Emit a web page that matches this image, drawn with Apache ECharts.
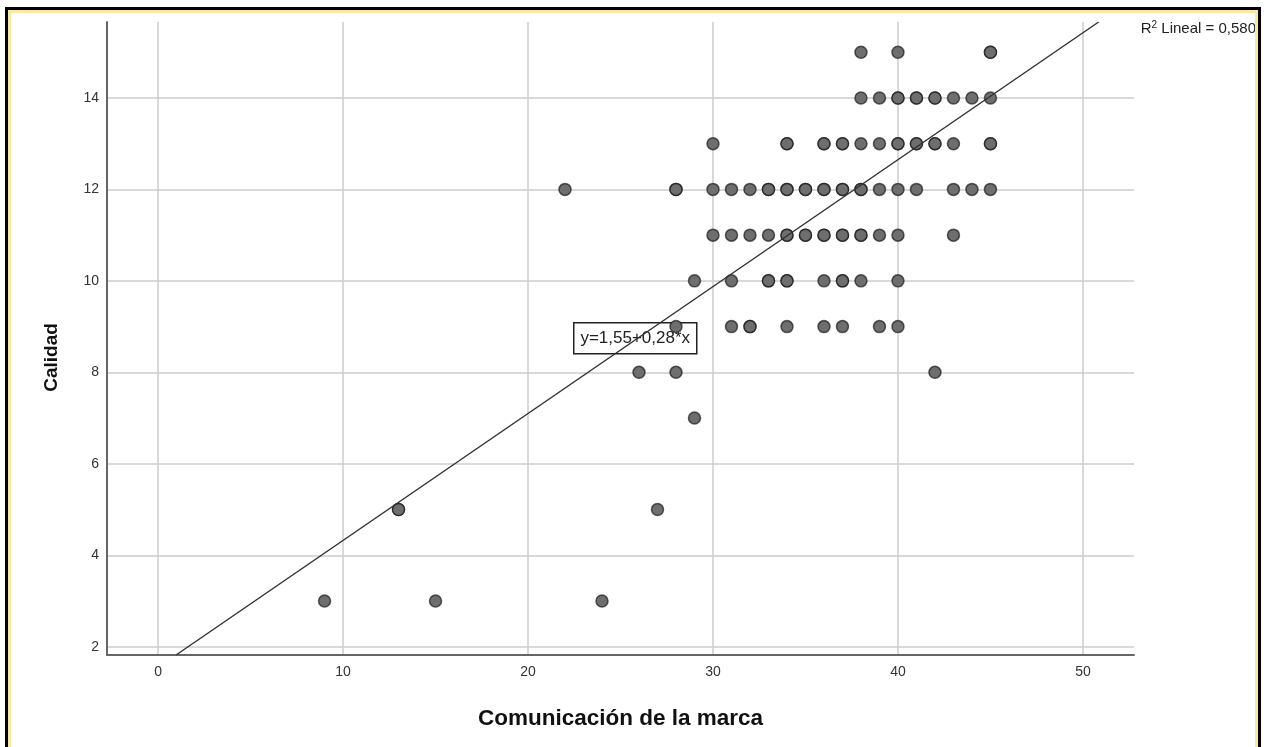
<!DOCTYPE html>
<html lang="es">

<head>
    <meta charset="UTF-8">
    <title>Calidad vs Comunicación de la marca</title>
    <script src="https://cdn.jsdelivr.net/npm/echarts@6/dist/echarts.min.js"></script>
    <style>
        html, body { margin: 0; padding: 0; background: #fff; }
        #chart { position: absolute; left: 0; top: 0; width: 1273px; height: 747px; }
        #frame {
            position: absolute; left: 5px; top: 7px; width: 1250px; height: 745px;
            border: 3px solid #000; pointer-events: none;
        }
        #frame .inner {
            position: absolute; left: 0; top: 0; right: 0; bottom: 0;
            border: 3px solid #fbe8a6;
        }
    </style>
</head>

<body>
    <div id="chart"></div>
    <div id="frame"><div class="inner"></div></div>

<script>
    // niveles de Calidad y los valores de Comunicación observados en cada nivel
    // (valores repetidos = casos superpuestos, se ven más oscuros)
    var calidadLevels = [15, 14, 13, 12, 11, 10, 9, 8, 7, 5, 3];
    var comunicacionByLevel = [
        [38, 40, 45, 45],
        [38, 39, 40, 40, 41, 41, 42, 42, 43, 44, 45],
        [30, 34, 34, 36, 36, 37, 37, 38, 39, 40, 40, 41, 41, 42, 42, 43, 45, 45],
        [22, 28, 28, 30, 31, 32, 33, 33, 34, 34, 35, 35, 36, 36, 37, 37, 38, 38, 39, 40, 41, 43, 44, 45],
        [30, 31, 32, 33, 34, 34, 35, 35, 36, 36, 37, 37, 38, 38, 39, 40, 43],
        [29, 31, 33, 33, 34, 34, 36, 37, 37, 38, 40],
        [28, 31, 32, 32, 34, 36, 37, 39, 40],
        [26, 28, 42],
        [29],
        [13, 13, 27],
        [9, 15, 24]
    ];
    var xTicks = [0, 10, 20, 30, 40, 50];
    var yTicks = [2, 4, 6, 8, 10, 12, 14];

    // ajuste lineal (coeficientes sin redondear y el texto que muestra SPSS)
    var intercept = 1.55;
    var slope = 0.2775;
    var eqText = 'y=1,55+0,28*x';
    var r2 = '0,580';

    var xMin = -2.76, xMax = 52.76;
    var yMin = 1.82, yMax = 15.66;

    var points = [];
    calidadLevels.forEach(function (y, i) {
        comunicacionByLevel[i].forEach(function (x) {
            points.push([x, y]);
        });
    });

    // la recta se corta en los bordes del eje Y
    var fitLine = [
        [(yMin - intercept) / slope, yMin],
        [(yMax - intercept) / slope, yMax]
    ];

    var chart = echarts.init(document.getElementById('chart'));
    chart.setOption({
        animation: false,
        textStyle: { fontFamily: 'Liberation Sans, Arial, sans-serif' },
        grid: { left: 107, right: 139, top: 22, bottom: 92 },
        xAxis: {
            type: 'value',
            min: xMin,
            max: xMax,
            name: 'Comunicación de la marca',
            nameLocation: 'middle',
            nameGap: 52,
            nameTextStyle: { fontSize: 22.5, fontWeight: 'bold', color: '#111' },
            axisLine: { onZero: false, lineStyle: { color: '#666', width: 2 } },
            axisTick: { show: false, customValues: xTicks },
            axisLabel: { customValues: xTicks, fontSize: 14, color: '#333', margin: 10 },
            splitLine: { show: true, lineStyle: { color: '#cccccc', width: 1.5 } }
        },
        yAxis: {
            type: 'value',
            min: yMin,
            max: yMax,
            name: 'Calidad',
            nameLocation: 'middle',
            nameGap: 46,
            nameRotate: 90,
            nameTextStyle: { fontSize: 19, fontWeight: 'bold', color: '#111', padding: [0, 38, 0, 0] },
            axisLine: { show: true, onZero: false, lineStyle: { color: '#666', width: 2 } },
            axisTick: { show: false, customValues: yTicks },
            axisLabel: { customValues: yTicks, fontSize: 14, color: '#333', margin: 8 },
            splitLine: { show: true, lineStyle: { color: '#cccccc', width: 1.5 } }
        },
        series: [{
            type: 'scatter',
            data: points,
            symbolSize: 12,
            itemStyle: {
                color: '#6e6e6e',
                borderColor: 'rgba(15,15,15,0.65)',
                borderWidth: 1.5,
                opacity: 1
            },
            z: 3
        }, {
            type: 'line',
            data: fitLine,
            symbol: 'none',
            lineStyle: { color: '#333', width: 1.5 },
            z: 4
        }],
        graphic: [{
            type: 'group',
            left: 573,
            top: 322,
            z: 10,
            children: [{
                type: 'rect',
                shape: { x: 0, y: 0, width: 123, height: 31 },
                style: { fill: '#fff', stroke: '#222', lineWidth: 1.5 }
            }, {
                type: 'text',
                x: 61.5,
                y: 16,
                style: {
                    text: eqText,
                    font: '17px "Liberation Sans", Arial, sans-serif',
                    fill: '#222',
                    align: 'center',
                    verticalAlign: 'middle'
                }
            }]
        }, {
            type: 'text',
            right: 17,
            top: 20,
            z: 10,
            style: {
                text: '{r|R}{s|2}{r| Lineal = ' + r2 + '}',
                rich: {
                    r: { fontSize: 15, fill: '#222', fontFamily: 'Liberation Sans' },
                    s: { fontSize: 10, fill: '#222', fontFamily: 'Liberation Sans', verticalAlign: 'top', padding: [0, 0, 7, 0] }
                }
            }
        }]
    });
</script>
</body>

</html>
